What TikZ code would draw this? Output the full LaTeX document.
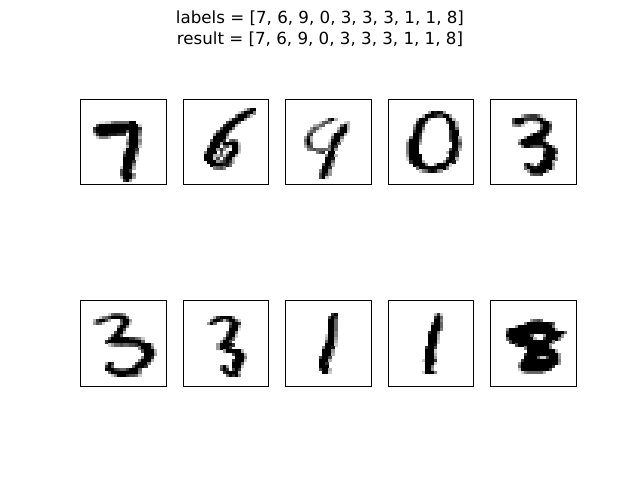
\documentclass[tikz,border=0pt]{standalone}
\usepackage{fontspec}
\setmainfont{DejaVu Sans}
\newcount\rowc
\newcount\colc
\def\pxsize{3.0542}
\def\pxcell#1{\if#1.\else\if#1X\def\pxc{100}\else\def\pxc{#10}\fi
  \fill[black!\pxc] ({\the\colc*\pxsize},{\the\rowc*\pxsize}) rectangle ({(\the\colc+1)*\pxsize+0.25},{(\the\rowc+1)*\pxsize+0.25});\fi}
\def\pxscan#1{\ifx#1\relax\else\pxcell{#1}\advance\colc by 1\relax\expandafter\pxscan\fi}
\def\pxR#1{\colc=0\relax\pxscan#1\relax\advance\rowc by 1\relax}
\tikzset{axframe/.style={draw=black,line width=1.05pt,fill=none}}
\begin{document}
\begin{tikzpicture}[x=1pt,y=-1pt]
\useasboundingbox (0,0) rectangle (640,480);
\fill[white] (0,0) rectangle (640,480);
\node[font=\fontsize{16.67}{21}\selectfont,align=center,inner sep=0pt] (title) at (320,28.5) {labels = [7, 6, 9, 0, 3, 3, 3, 1, 1, 8]\\result = [7, 6, 9, 0, 3, 3, 3, 1, 1, 8]};
% --- 7
\begin{scope}[shift={(80.3,99.2)}]
\rowc=7
\pxR{......1122566666XX}
\pxR{.....7XXXXXXXXXXXXX2}
\pxR{....8XXXXXXXXXXXXXX8}
\pxR{....7XXXXXXXXXX6XXX6}
\pxR{....28XXX999888.XXX5}
\pxR{.....25553.....2XXX3}
\pxR{...............4XXX5}
\pxR{...............6XXX4}
\pxR{...............3XXX2}
\pxR{..............1XXX8}
\pxR{..............5XXX6}
\pxR{..............8XXX3}
\pxR{..............XXXX1}
\pxR{..............XXX8}
\pxR{..............XXX5}
\pxR{.............2XXX3}
\pxR{.............7XX8}
\pxR{.............7XXX5}
\pxR{.............3XXX4}
\pxR{..............8X4}
\end{scope}
\draw[axframe] (80.5,99.5) rectangle (166.5,184.5);
% --- 6
\begin{scope}[shift={(182.9,99.2)}]
\rowc=3
\pxR{....................26XX}
\pxR{..................26XXX5}
\pxR{.................6XXX72}
\pxR{...............39XXX4}
\pxR{..............7XXX6}
\pxR{.............8XXX3}
\pxR{............7XXX5}
\pxR{...........6XXX4}
\pxR{..........4XXX6}
\pxR{..........XXXX3}
\pxR{.........6XXX8.675}
\pxR{.........XXX4XXXXX2}
\pxR{........4XXX.672XX3}
\pxR{........XXX484..XX3}
\pxR{.......5XXX.7.3XXX2}
\pxR{.......XXX33628XX3}
\pxR{.......XXX27.7XX3}
\pxR{........XXX468X83}
\pxR{.........XXXX996}
\pxR{..........5675}
\end{scope}
\draw[axframe] (183.5,99.5) rectangle (268.5,184.5);
% --- 9
\begin{scope}[shift={(285.5,99.2)}]
\rowc=6
\pxR{.............28X3}
\pxR{...........2675....23}
\pxR{.........3466.....6X3}
\pxR{........4762.....3XX3}
\pxR{.......3661......6XX2}
\pxR{.......78......2XXX3}
\pxR{......493......6XX5}
\pxR{......6X3.....19XX2}
\pxR{......5X6.....3XX6}
\pxR{......377.....6X8}
\pxR{.......56766665X4}
\pxR{..........578.XX}
\pxR{.............5XX3}
\pxR{.............XX9}
\pxR{.............XX6}
\pxR{............7XX3}
\pxR{............XX8}
\pxR{...........5XX4}
\pxR{...........7X84}
\pxR{...........7X2}
\end{scope}
\draw[axframe] (285.5,99.5) rectangle (371.5,184.5);
% --- 0
\begin{scope}[shift={(388.1,99.2)}]
\rowc=4
\pxR{.............4X9X94}
\pxR{...........3XXX977XX4}
\pxR{.........3XXX3.....XX3}
\pxR{.........8XX5......6XX3}
\pxR{........4XX8........XX3}
\pxR{........6XX5........XX6}
\pxR{........8XX2........8XX}
\pxR{........XX8.........8XX}
\pxR{.......5XX7.........8XX3}
\pxR{......2XXX5.........7XX5}
\pxR{......5XXX3..........XX7}
\pxR{......5XXX...........XX5}
\pxR{......5XXX..........7XX3}
\pxR{......5XXX.........3XX8}
\pxR{......4XXXX.........XX8}
\pxR{......2XXXX........7XX3}
\pxR{.......8XXX3......4XX9}
\pxR{........XXXX5..4XXXX2}
\pxR{.........6XXXXXXXXX5}
\pxR{..........2569X954}
\end{scope}
\draw[axframe] (388.5,99.5) rectangle (473.5,184.5);
% --- 3
\begin{scope}[shift={(490.7,99.2)}]
\rowc=5
\pxR{..........3678862}
\pxR{.......7XXX8888XX5}
\pxR{.......7XXX3..23XXX4}
\pxR{.......4562.....6XX8}
\pxR{................7XX7}
\pxR{...............6XXX4}
\pxR{.............5XXXX7}
\pxR{...........4XXXXX8}
\pxR{.........3XXXXXXX5}
\pxR{.........6XXXXXXXX7}
\pxR{..........5XX8777XXX4}
\pxR{.................5XXX6}
\pxR{.................8XXX8}
\pxR{.................XXXX2}
\pxR{.................8XXX5}
\pxR{................9XXX3}
\pxR{...........8X4.6XXXX5}
\pxR{...........6XX9XXXXX3}
\pxR{............4XXXXX5}
\pxR{.............6778}
\end{scope}
\draw[axframe] (490.5,99.5) rectangle (576.5,184.5);
% --- 3 (large)
\begin{scope}[shift={(80.3,300.6)}]
\rowc=4
\pxR{.........267764}
\pxR{......2568XXXXX6}
\pxR{....38XX73...7XX4}
\pxR{....4762.....6XX2}
\pxR{............5XX5}
\pxR{............XX7}
\pxR{...........7XX3}
\pxR{..........6XX6}
\pxR{.........6XXXXXX88652}
\pxR{........8XXXXXXXXXXX6}
\pxR{.........2466766778XXXX3}
\pxR{...................5XXX5}
\pxR{....................7XXX3}
\pxR{.....................XXX4}
\pxR{....................5XX8}
\pxR{...................5XXX3}
\pxR{........3X8.......7XXX5}
\pxR{........8X6......6XXX8}
\pxR{........XXX87668XXX6}
\pxR{.........6XXXXXXXXX5}
\pxR{..........25XXX87762}
\end{scope}
\draw[axframe] (80.5,300.5) rectangle (166.5,386.5);
% --- 3 (narrow)
\begin{scope}[shift={(182.9,300.6)}]
\rowc=5
\pxR{..........38XXXX5}
\pxR{.........6XX837XX62}
\pxR{........4X6....6XX8}
\pxR{...............8XX3}
\pxR{...............XXX1}
\pxR{..............6XX5}
\pxR{..............8XX2}
\pxR{.............5XX6}
\pxR{............4XX7}
\pxR{...........4XXXX8}
\pxR{...........4XXX8}
\pxR{.............4XXXXX3}
\pxR{................7XXX3}
\pxR{.................XXX5}
\pxR{................8XXX2}
\pxR{................XXX6}
\pxR{............6X4.XXX2}
\pxR{............7X8.7X8}
\pxR{.............8XXXX3}
\pxR{..............6X8X5}
\end{scope}
\draw[axframe] (183.5,300.5) rectangle (268.5,386.5);
% --- 1
\begin{scope}[shift={(285.5,300.6)}]
\rowc=4
\pxR{...............8X}
\pxR{..............7X8}
\pxR{..............XX6}
\pxR{..............XX6}
\pxR{..............XX6}
\pxR{..............XX6}
\pxR{..............XX5}
\pxR{.............2XX5}
\pxR{.............3XX4}
\pxR{.............6XX3}
\pxR{.............XXX2}
\pxR{............5XX9}
\pxR{............XXX4}
\pxR{............XXX3}
\pxR{...........7XX7}
\pxR{...........XXX3}
\pxR{...........XX8}
\pxR{...........XXX}
\pxR{...........7XX3}
\pxR{............XX2}
\end{scope}
\draw[axframe] (285.5,300.5) rectangle (371.5,386.5);
% --- 1
\begin{scope}[shift={(388.1,300.6)}]
\rowc=4
\pxR{...............382}
\pxR{...............8X6}
\pxR{...............XX5}
\pxR{..............5XX6}
\pxR{..............XXX6}
\pxR{..............XXX5}
\pxR{.............8XX5}
\pxR{.............XXX3}
\pxR{.............XXX3}
\pxR{.............XXX2}
\pxR{.............XX9}
\pxR{............8XX7}
\pxR{............XXX2}
\pxR{............XXX3}
\pxR{............XXX4}
\pxR{...........2XXX8}
\pxR{............XXX2}
\pxR{............XX5}
\pxR{............XX4}
\pxR{...........2XXX5}
\end{scope}
\draw[axframe] (388.5,300.5) rectangle (473.5,386.5);
% --- 8
\begin{scope}[shift={(490.7,300.6)}]
\rowc=6
\pxR{.............4676}
\pxR{...........5XXXXXXX97}
\pxR{........4XXXXXXXXXXX5}
\pxR{.....5XXXXXXXXXXXXXXX3}
\pxR{.....8XXXXXXXXXXXXXXXXXX6}
\pxR{.....XXXXXXXX6...4XXXXX4}
\pxR{.....6XXXXXXXX3..8XXXX5}
\pxR{......7XXXXXXXXXXXXX5}
\pxR{........7XXXXXXXXXX4}
\pxR{...........5XXXXXXX5}
\pxR{............XXXXXXXXX3}
\pxR{...........8XXXXXXXXXX4}
\pxR{...........XXXX6227XXX4}
\pxR{..........8XXXXXXXXXXX5}
\pxR{.........4XXXXXXXXXXXX4}
\pxR{.........6XXXXXXXXXX8}
\pxR{.........2XXXXXXXXX7}
\pxR{..........25666663}
\end{scope}
\draw[axframe] (490.5,300.5) rectangle (576.5,386.5);
\end{tikzpicture}
\end{document}
